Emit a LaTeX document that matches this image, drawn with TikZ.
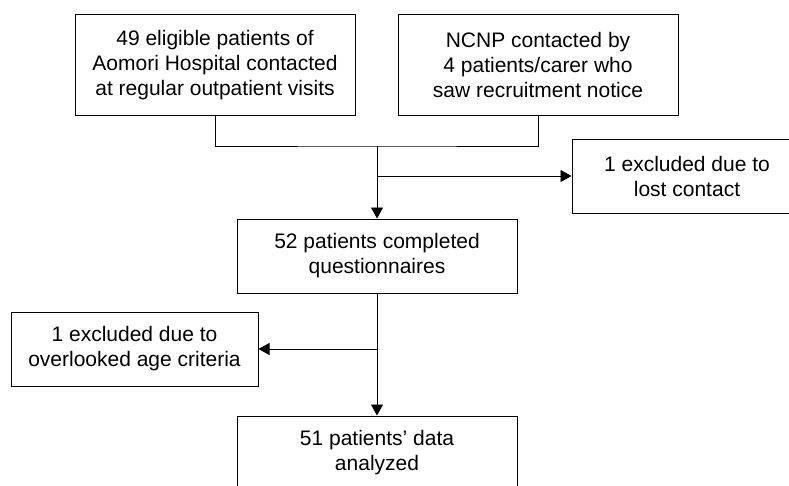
\documentclass[tikz,border=0pt]{standalone}
\usepackage{fontspec}
\setmainfont{Liberation Sans}
\usetikzlibrary{arrows.meta,positioning,calc}
\tikzset{
  >={Triangle[length=11pt,width=12pt]},
  box/.style={draw=black,line width=1pt,minimum width=#1,minimum height=74pt,
    inner sep=0pt,align=center,font=\fontsize{21}{25}\selectfont},
  box/.default=280pt,
  flow/.style={->,line width=0.9pt,draw=black},
}
\begin{document}
\begin{tikzpicture}[x=1pt,y=-1pt]
  \useasboundingbox (0,0) rectangle (789,485);
  \clip (0,0) rectangle (789,485);
  % recruitment sources
  \node[box,minimum height=101pt] (aomori) at (215,65) {49 eligible patients of\\Aomori Hospital contacted\\at regular outpatient visits};
  \node[box,minimum height=101pt] (ncnp) at (538,65) {NCNP contacted by\\4 patients/carer who\\saw recruitment notice};
  \coordinate (merge) at (377,146);
  % flow
  \node[box=230pt] (lost) at (687,176) {1 excluded due to\\lost contact};
  \node[box] (completed) at (377,256) {52 patients completed\\questionnaires};
  \node[box=247pt] (age) at (134.5,349) {1 excluded due to\\overlooked age criteria};
  \node[box] (analyzed) at (377,453) {51 patients’ data\\analyzed};
  % connectors
  \draw[line width=0.9pt] (aomori.south) |- (merge) -| (ncnp.south);
  \draw[flow] (merge) -- (completed.north);
  \draw[flow] (merge |- lost) -- (lost);
  \draw[flow] (completed) -- (analyzed);
  \draw[flow] (completed |- age) -- (age);
\end{tikzpicture}
\end{document}
